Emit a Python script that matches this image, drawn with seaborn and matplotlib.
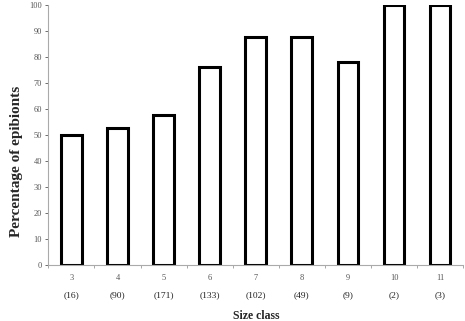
import matplotlib
matplotlib.use("Agg")
import matplotlib.pyplot as plt
import seaborn as sns
import numpy as np
import pandas as pd

size_class = ["3", "4", "5", "6", "7", "8", "9", "10", "11"]
counts = ["(16)", "(90)", "(171)", "(133)", "(102)", "(49)", "(9)", "(2)", "(3)"]
percent = [50, 52.5, 57.5, 76, 87.5, 87.8, 78, 100, 100]

sns.set_theme(style="white")
plt.rcParams["font.family"] = ["Liberation Serif", "DejaVu Serif"]

df = pd.DataFrame({"size": size_class, "pct": percent})

fig = plt.figure(figsize=(4.65, 3.21), dpi=100)
ax = fig.add_axes([0.104, 0.1745, 0.892, 0.81])
sns.barplot(data=df, x="size", y="pct", color="white", edgecolor="black",
            linewidth=2.2, width=0.45, ax=ax, saturation=1)

ax.set_ylim(0, 100)
ax.set_xlim(-0.5, len(size_class) - 0.5)
ax.set_yticks(np.arange(0, 101, 10))
ax.tick_params(axis="y", labelsize=6, colors="#555555", length=2.5, width=0.6,
               left=True, direction="out", pad=2)
ax.set_xticks(range(len(size_class)))
ax.set_xticklabels(size_class)
ax.set_xticks(np.arange(-0.5, len(size_class), 1), minor=True)
ax.tick_params(axis="x", which="major", length=0, labelsize=6, colors="#555555", pad=6.5)
ax.tick_params(axis="x", which="minor", length=2.5, width=0.6, color="#999999",
               bottom=True, direction="out")

for s in ["top", "right"]:
    ax.spines[s].set_visible(False)
for s in ["left", "bottom"]:
    ax.spines[s].set_color("#aaaaaa")
    ax.spines[s].set_linewidth(0.8)

for i, c in enumerate(counts):
    ax.annotate(c, xy=(i, 0), xycoords=("data", "axes fraction"),
                xytext=(0, -21.5), textcoords="offset points", ha="center",
                va="center", fontsize=6.8, color="#222222")

ax.set_xlabel("Size class", fontsize=8.5, fontweight="bold")
ax.xaxis.set_label_coords(0.5, -0.195)
ax.xaxis.label.set_va("center")
ax.set_ylabel("Percentage of epibionts", fontsize=11, fontweight="bold")
ax.yaxis.set_label_coords(-0.078, 0.40)
ax.yaxis.label.set_va("center")

fig.savefig("out.png", dpi=100)
